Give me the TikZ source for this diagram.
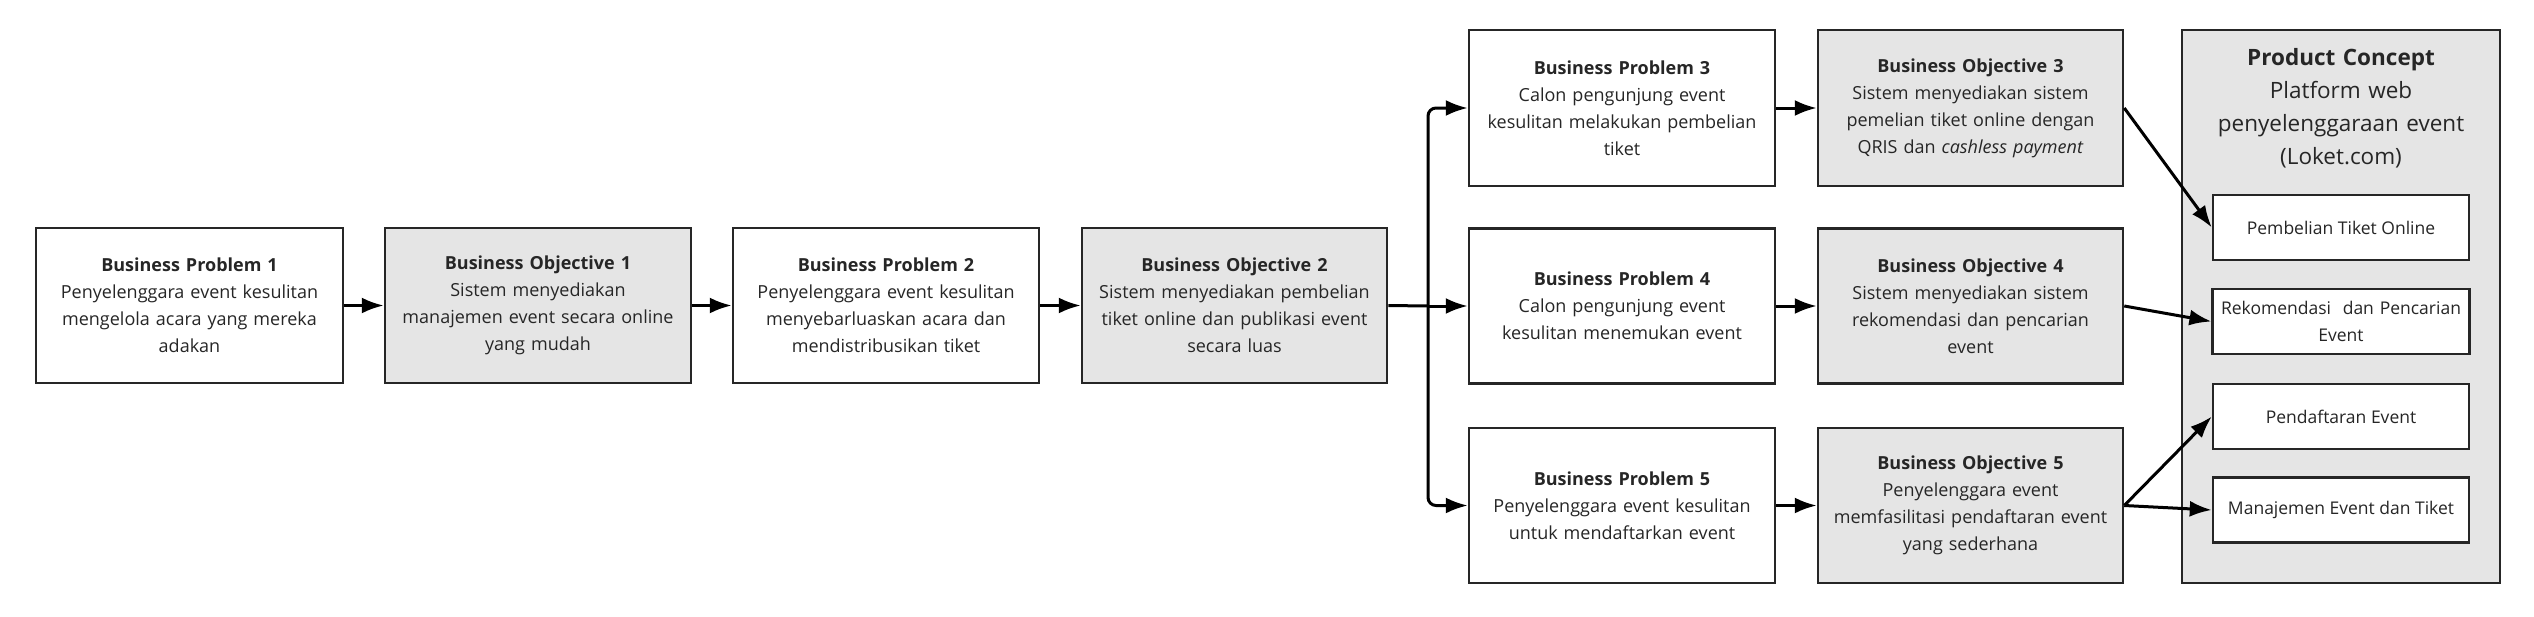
\documentclass[tikz,border=0pt]{standalone}
\usepackage{fontspec}
\setmainfont{Open Sans}
\usetikzlibrary{arrows.meta}
\begin{document}
\hyphenpenalty=10000 \exhyphenpenalty=10000
\begin{tikzpicture}[x=1pt,y=-1pt,
 box/.style={draw=black!85,line width=2.5pt,align=center,inner sep=0pt,font=\fontsize{18}{27}\selectfont,text=black!85},
 wb/.style={box,fill=white},
 gb/.style={box,fill=black!10},
 sb/.style={draw=black!85,line width=2.5pt,fill=white,align=center,font=\fontsize{17.5}{27}\selectfont,text=black!85},
 arr/.style={line width=3pt,-{Latex[length=22pt,width=16pt]}}]
\useasboundingbox (0,0) rectangle (2534,616);
\newcommand{\bx}[6]{\node[#1,minimum width=#4pt,minimum height=#5pt,text width=#4pt-4pt] (#2) at (#3) {#6};}
\bx{wb}{bp1}{189.5,305.5}{307}{155}{\textbf{Business Problem 1}\\Penyelenggara event kesulitan\\mengelola acara yang mereka\\adakan}
\bx{gb}{bo1}{538,305.5}{306}{155}{\textbf{Business Objective 1}\\Sistem menyediakan\\manajemen event secara online\\yang mudah}
\bx{wb}{bp2}{886,305.5}{306}{155}{\textbf{Business Problem 2}\\Penyelenggara event kesulitan\\menyebarluaskan acara dan\\mendistribusikan tiket}
\bx{gb}{bo2}{1234.5,305.5}{305}{155}{\textbf{Business Objective 2}\\Sistem menyediakan pembelian\\tiket online dan publikasi event\\secara luas}
\bx{wb}{bp3}{1622,108}{306}{156}{\textbf{Business Problem 3}\\Calon pengunjung event\\kesulitan melakukan pembelian\\tiket}
\bx{gb}{bo3}{1970.5,108}{305}{156}{\textbf{Business Objective 3}\\Sistem menyediakan sistem\\pemelian tiket online dengan\\QRIS dan \textit{cashless payment}}
\bx{wb}{bp4}{1622,306}{306}{155}{\textbf{Business Problem 4}\\Calon pengunjung event\\kesulitan menemukan event}
\bx{gb}{bo4}{1970.5,306}{305}{155}{\textbf{Business Objective 4}\\Sistem menyediakan sistem\\rekomendasi dan pencarian\\event}
\bx{wb}{bp5}{1622,505.5}{306}{155}{\textbf{Business Problem 5}\\Penyelenggara event kesulitan\\untuk mendaftarkan event}
\bx{gb}{bo5}{1970.5,505.5}{305}{155}{\textbf{Business Objective 5}\\Penyelenggara event\\memfasilitasi pendaftaran event\\yang sederhana}
\node[draw=black!85,line width=2.5pt,fill=black!10,minimum width=318pt,minimum height=553pt] (pc) at (2341,306.5) {};
\node[align=center,text=black!85,text width=300pt,font=\fontsize{22.5}{33}\selectfont,anchor=north] (pct) at (2341,45) {\textbf{Product Concept}\\Platform web\\penyelenggaraan event\\(Loket.com)};
\node[sb,minimum width=256pt,minimum height=65pt] (s1) at (2341,227.5) {Pembelian Tiket Online};
\node[sb,minimum width=256pt,minimum height=65pt,text width=250pt] (s2) at (2341,321.5) {Rekomendasi\ \ dan Pencarian\\Event};
\node[sb,minimum width=256pt,minimum height=65pt] (s3) at (2341,416.5) {Pendaftaran Event};
\node[sb,minimum width=256pt,minimum height=65pt] (s4) at (2341,510) {Manajemen Event dan Tiket};
\draw[arr] (bp1) -- (bo1);
\draw[arr] (bo1) -- (bp2);
\draw[arr] (bp2) -- (bo2);
\coordinate (j) at (1428,306);
\draw[line width=3pt] (bo2.east) -- (j);
\draw[arr,rounded corners=8pt] (j) -- (1428,108) -- (bp3.west);
\draw[arr] (j) -- (bp4.west);
\draw[arr,rounded corners=8pt] (j) -- (1428,505.5) -- (bp5.west);
\draw[arr] (bp3) -- (bo3);
\draw[arr] (bp4) -- (bo4);
\draw[arr] (bp5) -- (bo5);
\draw[arr] (bo3.east) -- (s1.west);
\draw[arr] (bo4.east) -- (s2.west);
\draw[arr] (bo5.east) -- (s3.west);
\draw[arr] (bo5.east) -- (s4.west);
\end{tikzpicture}
\end{document}
